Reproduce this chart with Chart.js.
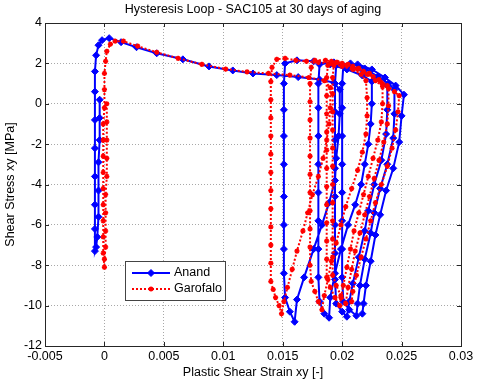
<!DOCTYPE html>
<html>
<head>
<meta charset="utf-8">
<script src="https://cdn.jsdelivr.net/npm/chart.js@4.4.1/dist/chart.umd.min.js"></script>
<style>
  html, body { margin: 0; padding: 0; background: #fff; }
</style>
</head>
<body>
<canvas id="chart" width="480" height="386"></canvas>
<script>
// Axis ticks
const xTicks = [-0.005, 0, 0.005, 0.01, 0.015, 0.02, 0.025, 0.03];
const xTickLabels = ["-0.005", "0", "0.005", "0.01", "0.015", "0.02", "0.025", "0.03"];
const yTicks = [4, 2, 0, -2, -4, -6, -8, -10, -12];
const yTickLabels = ["4", "2", "0", "-2", "-4", "-6", "-8", "-10", "-12"];

// Anand (blue)
const anandStrain = [
  -0.0004, -0.0004, -0.0004, -0.0005, -0.0005, -0.0005, -0.0006, -0.0007, -0.0008,
  -0.0008, -0.0008, -0.0008, -0.0008, -0.0008, -0.0008, -0.0008, -0.0007, -0.0005, -0.0002, 0.0004,
  0.0014, 0.0027, 0.0044, 0.0066, 0.0088, 0.0108, 0.0125, 0.0145, 0.0163, 0.0181, 0.0193, 0.0198,
  0.0198, 0.0197, 0.0195, 0.0194, 0.0189, 0.0183, 0.0176, 0.0168, 0.0162, 0.0160,
  0.0156, 0.0152, 0.0151, 0.0151, 0.0151, 0.0151, 0.0151, 0.0151, 0.0151, 0.0151, 0.0152,
  0.0162, 0.0176, 0.0190, 0.0204, 0.0217, 0.0225,
  0.0225, 0.0224, 0.0222, 0.0219, 0.0216, 0.0211, 0.0205, 0.0199, 0.0194, 0.0190, 0.0189,
  0.0185, 0.0181, 0.0180, 0.0180, 0.0180, 0.0180, 0.0180, 0.0180, 0.0180, 0.0180, 0.0181,
  0.0193, 0.0206, 0.0218, 0.0229, 0.0238,
  0.0238, 0.0237, 0.0233, 0.0227, 0.0222, 0.0219, 0.0214, 0.0209, 0.0206, 0.0204,
  0.0200, 0.0195, 0.0194, 0.0194, 0.0194, 0.0194, 0.0194, 0.0194, 0.0194, 0.0194, 0.0195,
  0.0207, 0.0219, 0.0230, 0.0239, 0.0244,
  0.0244, 0.0243, 0.0238, 0.0232, 0.0227, 0.0224, 0.0219, 0.0215, 0.0213, 0.0212,
  0.0206, 0.0201, 0.0200, 0.0200, 0.0200, 0.0200, 0.0200, 0.0200, 0.0200, 0.0200, 0.0201,
  0.0213, 0.0225, 0.0236, 0.0245, 0.0252,
  0.0250, 0.0248, 0.0243, 0.0237, 0.0232, 0.0228, 0.0224, 0.0220, 0.0218, 0.0217
];
const anandStress = [
  0.2, -0.7, -1.8, -2.9, -4.3, -5.6, -6.6, -7.1, -7.3,
  -6.2, -5.0, -3.6, -2.2, -0.8, 0.6, 1.6, 2.4, 2.9, 3.15, 3.25,
  3.05, 2.8, 2.5, 2.2, 1.85, 1.65, 1.5, 1.42, 1.32, 1.2, 1.05, 0.7,
  -0.5, -1.6, -2.7, -3.8, -4.9, -6.0, -7.2, -8.6, -9.7, -10.8,
  -10.3, -9.6, -8.4, -7.2, -6.0, -4.6, -3.0, -1.6, -0.3, 1.0, 2.0,
  2.15, 2.1, 1.95, 1.7, 1.4, 1.1,
  0.0, -1.0, -2.0, -3.0, -4.0, -5.0, -6.0, -7.2, -8.4, -9.6, -10.6,
  -10.4, -9.8, -8.6, -7.2, -5.8, -4.4, -3.0, -1.6, -0.2, 1.0, 1.95,
  2.05, 1.9, 1.6, 1.25, 0.9,
  -0.3, -1.5, -2.8, -4.0, -5.3, -6.3, -7.6, -8.9, -9.8, -10.55,
  -10.3, -9.9, -8.7, -7.4, -6.0, -4.6, -3.2, -1.8, -0.4, 1.0, 1.9,
  2.0, 1.75, 1.35, 1.0, 0.7,
  -0.5, -1.7, -3.0, -4.2, -5.4, -6.4, -7.7, -9.0, -9.9, -10.5,
  -10.2, -9.8, -8.6, -7.2, -5.8, -4.4, -3.0, -1.6, -0.2, 1.0, 1.9,
  1.95, 1.7, 1.3, 0.9, 0.45,
  -0.6, -1.9, -3.2, -4.3, -5.5, -6.5, -7.8, -9.0, -9.9, -10.4
];

// Garofalo (red)
const garofaloStrain = [
  0.0002, 0.0002, 0.0002, 0.0002, 0.0002, 0.0001, 0.0001, 0.0001, 0.0001, 0.0000, 0.0000,
  -0.0001, -0.0001, -0.0001, -0.0001, -0.0001, -0.0001, -0.0001, -0.0001, -0.0001, 0.0000, 0.0000, 0.0000, 0.0001, 0.0002, 0.0005, 0.0009,
  0.0016, 0.0028, 0.0044, 0.0062, 0.0082, 0.0102, 0.0120, 0.0138, 0.0156, 0.0172, 0.0185, 0.0190,
  0.0190, 0.0189, 0.0187, 0.0184, 0.0180, 0.0175, 0.0171, 0.0167, 0.0162, 0.0158, 0.0154, 0.0151, 0.0149,
  0.0147, 0.0144, 0.0142, 0.0140,
  0.0140, 0.0140, 0.0140, 0.0140, 0.0140, 0.0140, 0.0140, 0.0140, 0.0140, 0.0140, 0.0140, 0.0141, 0.0145,
  0.0152, 0.0161, 0.0170, 0.0180, 0.0190, 0.0200, 0.0209, 0.0216, 0.0220,
  0.0221, 0.0221, 0.0220, 0.0217, 0.0213, 0.0208, 0.0203, 0.0199, 0.0195, 0.0191, 0.0188, 0.0185, 0.0183,
  0.0180, 0.0177, 0.0174,
  0.0173, 0.0173, 0.0173, 0.0173, 0.0173, 0.0173, 0.0173, 0.0173, 0.0173, 0.0173, 0.0173, 0.0174, 0.0177,
  0.0186, 0.0195, 0.0204, 0.0213, 0.0221, 0.0228, 0.0234,
  0.0234, 0.0233, 0.0230, 0.0226, 0.0222, 0.0218, 0.0214, 0.0210, 0.0207, 0.0204, 0.0201, 0.0199, 0.0198,
  0.0194, 0.0190, 0.0187,
  0.0187, 0.0187, 0.0187, 0.0187, 0.0187, 0.0187, 0.0187, 0.0187, 0.0187, 0.0187, 0.0187, 0.0188, 0.0191,
  0.0200, 0.0209, 0.0218, 0.0226, 0.0233, 0.0239,
  0.0239, 0.0238, 0.0235, 0.0231, 0.0227, 0.0223, 0.0219, 0.0215, 0.0211, 0.0208, 0.0205, 0.0203,
  0.0199, 0.0195, 0.0192,
  0.0192, 0.0192, 0.0192, 0.0192, 0.0192, 0.0192, 0.0192, 0.0192, 0.0192, 0.0192, 0.0192, 0.0193, 0.0196,
  0.0205, 0.0214, 0.0223, 0.0231, 0.0238, 0.0244, 0.0248,
  0.0247, 0.0245, 0.0242, 0.0238, 0.0233, 0.0228, 0.0224, 0.0220, 0.0216, 0.0212, 0.0209, 0.0208
];
const garofaloStress = [
  0.0, -0.9, -1.8, -2.7, -3.6, -4.5, -5.4, -6.3, -7.1, -7.7, -8.1,
  -7.4, -6.6, -5.8, -5.0, -4.2, -3.4, -2.6, -1.8, -1.0, -0.2, 0.7, 1.5, 2.1, 2.6, 2.95, 3.1,
  3.1, 2.85, 2.55, 2.25, 1.95, 1.72, 1.58, 1.5, 1.42, 1.3, 1.15, 0.8,
  -0.2, -1.0, -1.8, -2.7, -3.6, -4.5, -5.4, -6.3, -7.3, -8.2, -9.1, -9.8, -10.4,
  -10.0, -9.6, -9.2, -8.8,
  -7.9, -7.0, -6.1, -5.2, -4.3, -3.4, -2.5, -1.6, -0.7, 0.2, 1.1, 1.8, 2.2,
  2.25, 2.15, 2.1, 2.05, 2.0, 1.85, 1.7, 1.45, 1.15,
  0.3, -0.6, -1.5, -2.4, -3.3, -4.2, -5.1, -6.0, -6.9, -7.8, -8.7, -9.5, -10.2,
  -9.8, -9.3, -8.8,
  -8.0, -7.1, -6.2, -5.3, -4.4, -3.5, -2.6, -1.7, -0.8, 0.1, 1.0, 1.8, 2.15,
  2.15, 2.05, 1.9, 1.7, 1.45, 1.15, 0.85,
  0.0, -0.9, -1.8, -2.7, -3.6, -4.5, -5.4, -6.3, -7.2, -8.1, -9.0, -9.6, -10.0,
  -9.6, -9.1, -8.6,
  -7.7, -6.8, -5.9, -5.0, -4.1, -3.2, -2.3, -1.4, -0.5, 0.4, 1.3, 1.9, 2.1,
  2.0, 1.85, 1.6, 1.35, 1.05, 0.75,
  -0.1, -1.0, -1.9, -2.8, -3.7, -4.6, -5.5, -6.4, -7.3, -8.2, -9.1, -9.9,
  -9.5, -9.0, -8.5,
  -7.6, -6.7, -5.8, -4.9, -4.0, -3.1, -2.2, -1.3, -0.4, 0.5, 1.3, 1.9, 2.05,
  1.95, 1.75, 1.5, 1.2, 0.9, 0.6, 0.4,
  -0.4, -1.3, -2.2, -3.1, -4.0, -4.9, -5.8, -6.7, -7.6, -8.5, -9.3, -9.8
];

const FONT = "'Liberation Sans', Arial, sans-serif";
const BLUE = "#0000ff";
const RED = "#ff0000";

const toPoints = (xs, ys) => xs.map((x, i) => ({ x: x, y: ys[i] }));

const anandStyle = { pointStyle: "rectRot", radius: 3.5, borderWidth: 1, color: BLUE };
const garofaloStyle = { pointStyle: "star", radius: 2.6, borderWidth: 1.5, color: RED };

// box, inward ticks, title and legend the MATLAB way
const matlabPlugin = {
  id: "matlab",
  afterDraw(chart) {
    const ctx = chart.ctx;
    const a = chart.chartArea;
    const xs = chart.scales.x;
    const ys = chart.scales.y;
    ctx.save();
    ctx.strokeStyle = "#262626";
    ctx.lineWidth = 1;
    ctx.beginPath();
    xTicks.forEach(v => {
      const px = Math.round(xs.getPixelForValue(v)) + 0.5;
      ctx.moveTo(px, a.bottom); ctx.lineTo(px, a.bottom - 4);
      ctx.moveTo(px, a.top); ctx.lineTo(px, a.top + 4);
    });
    yTicks.forEach(v => {
      const py = Math.round(ys.getPixelForValue(v)) + 0.5;
      ctx.moveTo(a.left, py); ctx.lineTo(a.left + 4, py);
      ctx.moveTo(a.right, py); ctx.lineTo(a.right - 4, py);
    });
    ctx.stroke();
    ctx.strokeRect(Math.round(a.left) + 0.5, Math.round(a.top) + 0.5,
      Math.round(a.right - a.left), Math.round(a.bottom - a.top));

    // title
    ctx.fillStyle = "#000";
    ctx.font = "12.5px " + FONT;
    ctx.textAlign = "center";
    ctx.textBaseline = "middle";
    ctx.fillText("Hysteresis Loop - SAC105 at 30 days of aging", (a.left + a.right) / 2, 10);

    // legend
    const lx = 125.5, ly = 261.5, lw = 100, lh = 39;
    ctx.fillStyle = "#fff";
    ctx.fillRect(lx, ly, lw, lh);
    ctx.strokeStyle = "#444";
    ctx.strokeRect(lx, ly, lw, lh);
    const rows = [
      { label: "Anand", y: 273, style: anandStyle, dash: [], width: 2 },
      { label: "Garofalo", y: 289, style: garofaloStyle, dash: [2, 2], width: 2 }
    ];
    rows.forEach(r => {
      ctx.strokeStyle = r.style.color;
      ctx.lineWidth = r.width;
      ctx.setLineDash(r.dash);
      ctx.beginPath();
      ctx.moveTo(132, r.y); ctx.lineTo(170, r.y);
      ctx.stroke();
      ctx.setLineDash([]);
      ctx.fillStyle = r.style.color;
      ctx.lineWidth = r.style.borderWidth;
      Chart.helpers.drawPoint(ctx, {
        pointStyle: r.style.pointStyle, radius: r.style.radius, rotation: 0,
        borderWidth: r.style.borderWidth
      }, 151, r.y);
      ctx.fillStyle = "#000";
      ctx.textAlign = "left";
      ctx.textBaseline = "middle";
      ctx.font = "12.5px " + FONT;
      ctx.fillText(r.label, 174, r.y);
    });
    ctx.restore();
  }
};

new Chart(document.getElementById("chart"), {
  type: "scatter",
  data: {
    datasets: [
      {
        label: "Anand",
        data: toPoints(anandStrain, anandStress),
        showLine: true,
        borderColor: BLUE,
        backgroundColor: BLUE,
        borderWidth: 2,
        pointStyle: anandStyle.pointStyle,
        pointRadius: anandStyle.radius,
        pointBorderWidth: anandStyle.borderWidth,
        order: 1
      },
      {
        label: "Garofalo",
        data: toPoints(garofaloStrain, garofaloStress),
        showLine: true,
        borderColor: RED,
        backgroundColor: RED,
        borderWidth: 2,
        borderDash: [2, 2],
        pointStyle: garofaloStyle.pointStyle,
        pointRadius: garofaloStyle.radius,
        pointBorderWidth: garofaloStyle.borderWidth,
        order: 0
      }
    ]
  },
  options: {
    responsive: false,
    animation: false,
    layout: { padding: { top: 23, right: 19, bottom: 0, left: 0 } },
    plugins: {
      legend: { display: false },
      title: { display: false },
      tooltip: { enabled: false }
    },
    scales: {
      x: {
        type: "linear",
        min: -0.005,
        max: 0.03,
        afterBuildTicks: s => { s.ticks = xTicks.map(v => ({ value: v })); },
        afterFit: s => { s.height = 40; },
        ticks: {
          callback: (v, i) => xTickLabels[i],
          color: "#000",
          font: { family: FONT, size: 12.5 },
          padding: 3,
          maxRotation: 0,
          autoSkip: false
        },
        grid: { color: "#a8a8a8", lineWidth: 1, drawTicks: false },
        border: { display: false, dash: [1, 2] },
        title: {
          display: true,
          text: "Plastic Shear Strain xy [-]",
          color: "#000",
          font: { family: FONT, size: 12.5 },
          padding: { top: 0, bottom: 6 }
        }
      },
      y: {
        type: "linear",
        min: -12,
        max: 4,
        afterBuildTicks: s => { s.ticks = yTicks.map(v => ({ value: v })); },
        afterFit: s => { s.width = 45; },
        ticks: {
          callback: (v, i) => yTickLabels[i],
          color: "#000",
          font: { family: FONT, size: 12.5 },
          padding: 3,
          autoSkip: false
        },
        grid: { color: "#a8a8a8", lineWidth: 1, drawTicks: false },
        border: { display: false, dash: [1, 2] },
        title: {
          display: true,
          text: "Shear Stress xy [MPa]",
          color: "#000",
          font: { family: FONT, size: 12.5 },
          padding: { top: 3, bottom: 0 }
        }
      }
    }
  },
  plugins: [matlabPlugin]
});
</script>
</body>
</html>
